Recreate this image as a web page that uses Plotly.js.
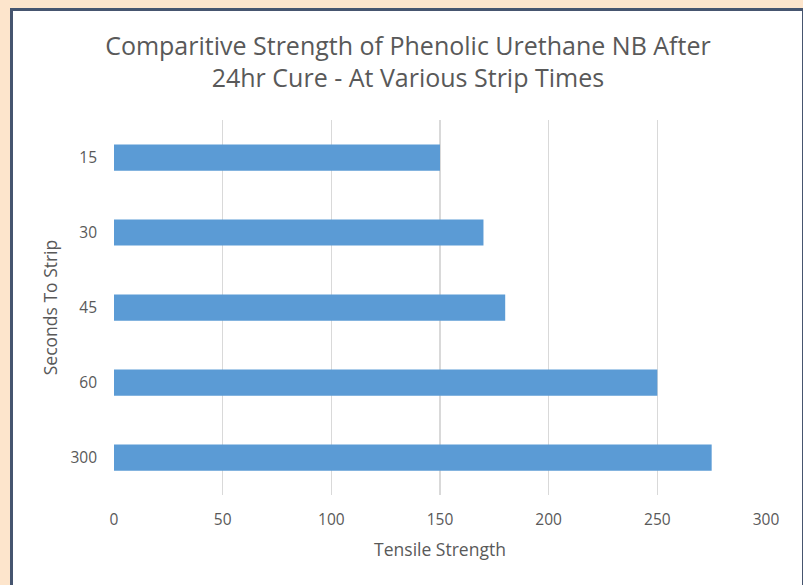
<!DOCTYPE html>
<html><head><meta charset="utf-8">
<script src="https://cdn.plot.ly/plotly-3.0.1.min.js"></script>
<style>
html,body{margin:0;padding:0;width:803px;height:585px;background:#FDE5CC;overflow:hidden;}
#frame{position:absolute;left:10px;top:8px;width:789px;height:590px;background:#fff;border:3px solid #46556F;}
#chart{position:absolute;left:0;top:0;width:803px;height:585px;}
</style></head>
<body>
<div id="frame"></div>
<div id="chart"></div>
<script>
const categories = ["15", "30", "45", "60", "300"];
const strength = [150, 170, 180, 250, 275];
const xTicks = [0, 50, 100, 150, 200, 250, 300];

const trace = {
  type: 'bar', orientation: 'h',
  x: strength, y: categories,
  marker: {color: '#5B9BD5'},
  width: 0.35,
  hoverinfo: 'none'
};
const font = "'Open Sans', 'Segoe UI', sans-serif";
const layout = {
  width: 803, height: 585,
  paper_bgcolor: 'rgba(0,0,0,0)', plot_bgcolor: 'rgba(0,0,0,0)',
  margin: {l: 114, r: 37, t: 120, b: 90},
  showlegend: false,
  font: {family: font, color: '#595959'},
  title: {
    text: 'Comparitive Strength of Phenolic Urethane NB After<br>24hr Cure - At Various Strip Times',
    font: {size: 25, color: '#595959', family: font},
    x: 0.508, xref: 'container', xanchor: 'center',
    y: 1 - 54.5/585, yref: 'container', yanchor: 'middle'
  },
  xaxis: {
    range: [0, 300], tickvals: xTicks, ticktext: xTicks.map(String),
    showgrid: true, gridcolor: '#D9D9D9', gridwidth: 1.5,
    zeroline: false, showline: false, ticks: '',
    ticklabelstandoff: 13,
    tickfont: {size: 15.5, color: '#595959'},
    title: {text: 'Tensile Strength', font: {size: 17.5, color: '#595959'}, standoff: 15},
    fixedrange: true
  },
  yaxis: {
    type: 'category', categoryorder: 'array', categoryarray: categories,
    autorange: 'reversed',
    showgrid: false, zeroline: false, showline: false, ticks: '',
    ticklabelstandoff: 16,
    tickfont: {size: 15.5, color: '#595959'},
    title: {text: 'Seconds To Strip', font: {size: 17.5, color: '#595959'}, standoff: 8},
    fixedrange: true
  }
};
Plotly.newPlot('chart', [trace], layout, {displayModeBar: false, staticPlot: true});
</script>
</body></html>
